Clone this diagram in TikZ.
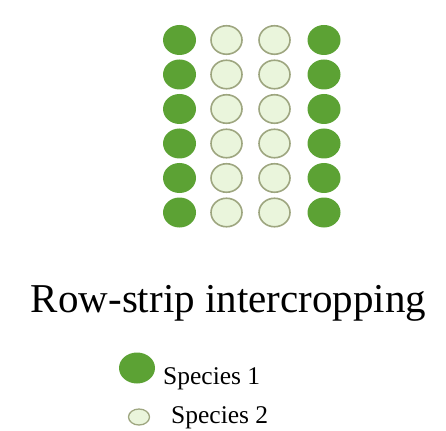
\documentclass[tikz,border=0pt]{standalone}
\usepackage{fontspec}
\setmainfont{Liberation Serif}
\usetikzlibrary{shapes.geometric}
\definecolor{darkleaf}{RGB}{92,162,52}
\definecolor{paleleaf}{RGB}{234,245,220}
\definecolor{paleedge}{RGB}{158,166,128}
\begin{document}
\begin{tikzpicture}[x=1pt,y=-1pt,
  spA/.style={ellipse,inner sep=0pt,minimum width=33pt,minimum height=30pt,fill=darkleaf,draw=none},
  spB/.style={ellipse,inner sep=0pt,minimum width=31pt,minimum height=28.5pt,fill=paleleaf,draw=paleedge,line width=1.6pt},
  title/.style={font=\fontsize{41}{49}\selectfont,anchor=base,inner sep=0pt},
  legtext/.style={font=\fontsize{25.5}{31}\selectfont,anchor=base west,inner sep=0pt}]
\useasboundingbox (0,0) rectangle (446,430);
% planting pattern: outer rows species 1, inner rows species 2
\foreach \r/\y in {1/40,2/74.5,3/109,4/143.5,5/178,6/212.5}{
  \node[spA] (a\r) at (179.5,\y) {};
  \node[spB] (b\r) at (226.5,\y) {};
  \node[spB] (c\r) at (274.5,\y) {};
  \node[spA] (d\r) at (324,\y) {};
}
\node[title] (ttl) at (228.5,312) {Row-strip intercropping};
% legend
\node[spA,minimum width=36pt,minimum height=31pt] (k1) at (137,368) {};
\node[legtext] (l1) at (163,384) {Species 1};
\node[spB,minimum width=21pt,minimum height=16pt,line width=1.3pt] (k2) at (139,417) {};
\node[legtext] (l2) at (171,423) {Species 2};
\end{tikzpicture}
\end{document}
